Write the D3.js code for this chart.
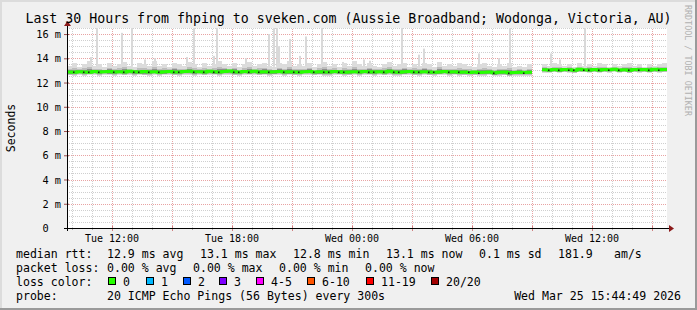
<!DOCTYPE html>
<html>
<head>
<meta charset="utf-8">
<script src="https://cdn.jsdelivr.net/npm/d3@7"></script>
<style>
  body { margin: 0; background: #f0f0f0; }
  svg { display: block; font-family: "DejaVu Sans Mono", monospace; }
  .grid line { shape-rendering: crispEdges; }
  .grid path { display: none; }
</style>
</head>
<body>
<div id="chart"></div>
<script>
// 30 hours, one sample every 15 minutes (ms)
const startTime = new Date(2026, 2, 24, 9, 45);
const endTime = new Date(2026, 2, 25, 15, 45);

const median = [
  12.86,12.84,12.90,12.88,12.85,12.91,12.87,12.89,12.92,12.88,
  12.90,12.87,12.93,12.89,12.86,12.91,12.88,12.90,12.85,12.89,
  12.92,12.88,12.87,12.91,12.94,12.89,12.90,12.86,12.93,12.90,
  12.88,12.92,12.95,12.90,12.87,12.91,12.89,12.93,12.88,12.90,
  12.86,12.89,12.91,12.87,12.90,12.88,12.85,12.89,12.92,12.87,
  12.90,12.88,12.86,12.91,12.89,12.84,12.88,12.90,12.87,12.92,
  12.89,12.86,12.90,12.88,12.93,12.87,12.85,12.89,12.91,12.88,
  12.86,12.90,12.87,12.84,12.88,12.91,12.86,12.89,12.85,12.87,
  12.83,12.86,12.82,12.85,12.88,12.81,12.84,12.86,12.80,12.83,
  12.85,12.82,12.84,null,null,13.06,13.04,13.08,13.03,13.07,
  13.05,13.02,13.09,13.06,13.04,13.08,13.03,13.07,13.05,13.10,
  13.04,13.06,13.02,13.08,13.05,13.07,13.03,13.09,13.06,13.08
];

const smokeHigh = [
  13.4,13.6,13.3,13.5,13.8,13.4,13.5,13.3,13.6,13.4,
  13.5,13.7,13.4,13.3,13.6,13.5,13.4,13.8,13.4,13.5,
  13.3,13.6,13.5,13.4,13.7,13.5,13.3,13.6,13.4,13.5,
  13.8,13.5,13.4,13.6,13.3,13.5,13.7,13.4,13.5,13.6,
  13.4,13.3,13.6,13.5,13.8,13.4,13.5,13.4,13.6,13.3,
  13.5,13.7,13.4,13.5,13.3,13.6,13.4,13.8,13.5,13.4,
  13.6,13.4,13.3,13.5,13.7,13.4,13.5,13.6,13.3,13.5,
  13.4,13.6,13.5,13.3,13.7,13.4,13.5,13.4,13.6,13.5,
  13.4,13.3,13.5,13.6,13.4,13.3,13.5,13.4,13.6,13.3,
  13.4,13.3,13.5,null,null,13.5,13.4,13.6,13.5,13.4,
  13.5,13.3,13.6,13.4,13.5,13.4,13.6,13.5,13.3,13.5,
  13.4,13.5,13.6,13.4,13.5,13.3,13.5,13.4,13.5,13.6
];

const smokeLow = [
  12.60,12.55,12.65,12.58,12.62,12.66,12.57,12.63,12.60,12.56,
  12.64,12.59,12.62,12.57,12.65,12.60,12.58,12.63,12.56,12.61,
  12.66,12.60,12.57,12.64,12.62,12.58,12.65,12.59,12.63,12.61,
  12.57,12.64,12.66,12.60,12.58,12.63,12.61,12.65,12.59,12.62,
  12.58,12.61,12.64,12.57,12.62,12.60,12.56,12.63,12.65,12.59,
  12.62,12.58,12.57,12.63,12.61,12.55,12.60,12.64,12.58,12.66,
  12.61,12.57,12.63,12.60,12.65,12.58,12.56,12.62,12.64,12.60,
  12.57,12.63,12.59,12.55,12.61,12.64,12.58,12.62,12.56,12.60,
  12.55,12.60,12.54,12.58,12.62,12.53,12.57,12.60,12.52,12.56,
  12.58,12.54,12.57,null,null,12.82,12.80,12.85,12.79,12.84,
  12.81,12.78,12.86,12.83,12.80,12.85,12.79,12.84,12.82,12.87,
  12.80,12.83,12.78,12.85,12.81,12.84,12.79,12.86,12.82,12.85
];

// single outlier pings (hours after start, top in ms)
const spikeHours = [1.15, 1.45, 2.7, 3.2, 3.85, 4.35, 5.95, 6.3, 7.3, 7.45, 7.65, 8.9,
  10.05, 10.3, 10.45, 10.55, 11.1, 11.6, 11.9, 12.7, 13.75, 14.8, 15.1, 16.7, 17.55,
  17.8, 20.55, 21.55, 22.1, 24.15, 24.6, 25.85];
const spikeTops = [14.1, 16.5, 16.1, 16.5, 13.9, 14.0, 14.1, 16.5, 14.2, 16.5, 13.6, 14.0,
  16.0, 16.5, 16.5, 15.0, 15.6, 14.2, 15.8, 16.5, 13.7, 13.9, 13.8, 16.5, 14.3,
  14.8, 14.4, 14.0, 16.5, 14.4, 13.9, 16.5];

const yTicks = [0, 2, 4, 6, 8, 10, 12, 14, 16];

const lossLabels = ["0", "1", "2", "3", "4-5", "6-10", "11-19", "20/20"];
const lossColors = ["#26ff00", "#00b8ff", "#0059ff", "#7e00ff", "#ff00ff", "#ff5500", "#ff0000", "#a10000"];

const rttLegend = ["12.9 ms avg", "13.1 ms max", "12.8 ms min", "13.1 ms now", "0.1 ms sd", "181.9", "am/s"];
const lossLegend = ["0.00 % avg", "0.00 % max", "0.00 % min", "0.00 % now"];
const probeText = "20 ICMP Echo Pings (56 Bytes) every 300s";
const stampText = "Wed Mar 25 15:44:49 2026";
const titleText = "Last 30 Hours from fhping to sveken.com (Aussie Broadband; Wodonga, Victoria, AU)";

function main() {
    const width = 697, height = 310;
    const plot = {left: 67, right: 667, top: 28, bottom: 228};
    const step = 15 * 60 * 1000;

    const svg = d3.select("#chart")
        .append("svg")
        .attr("width", width)
        .attr("height", height);

    // background and frame
    svg.append("rect").attr("width", width).attr("height", height).attr("fill", "#f0f0f0");
    svg.append("rect").attr("x", 0).attr("y", 0).attr("width", width).attr("height", 2).attr("fill", "#dcdcdc");
    svg.append("rect").attr("x", 0).attr("y", 0).attr("width", 2).attr("height", height).attr("fill", "#dcdcdc");
    svg.append("rect").attr("x", 0).attr("y", height - 2).attr("width", width).attr("height", 2).attr("fill", "#9a9a9a");
    svg.append("rect").attr("x", width - 2).attr("y", 0).attr("width", 2).attr("height", height).attr("fill", "#9a9a9a");

    svg.append("rect")
        .attr("x", plot.left).attr("y", plot.top)
        .attr("width", plot.right - plot.left).attr("height", plot.bottom - plot.top)
        .attr("fill", "#ffffff");

    const xScale = d3.scaleTime().domain([startTime, endTime]).range([plot.left, plot.right]);
    const yScale = d3.scaleLinear().domain([0, 16.5]).range([plot.bottom, plot.top]);

    // grid
    const minorY = d3.range(0.5, 16.51, 0.5).filter(v => v % 2 !== 0);
    const majorY = yTicks.filter(v => v > 0);
    const hours = d3.timeHour.every(1).range(startTime, endTime);
    const minorX = hours.filter(d => d.getHours() % 3 !== 0);
    const majorX = hours.filter(d => d.getHours() % 3 === 0);

    svg.append("g").attr("class", "grid")
        .attr("transform", `translate(${plot.left},0)`)
        .call(d3.axisLeft(yScale).tickValues(minorY).tickSize(-(plot.right - plot.left)).tickFormat(""))
        .selectAll("line").attr("stroke", "#cfcfcf").attr("stroke-dasharray", "1,1");
    svg.append("g").attr("class", "grid")
        .attr("transform", `translate(0,${plot.bottom})`)
        .call(d3.axisBottom(xScale).tickValues(minorX).tickSize(-(plot.bottom - plot.top)).tickFormat(""))
        .selectAll("line").attr("stroke", "#cfcfcf").attr("stroke-dasharray", "1,1");
    svg.append("g").attr("class", "grid")
        .attr("transform", `translate(${plot.left},0)`)
        .call(d3.axisLeft(yScale).tickValues(majorY).tickSize(-(plot.right - plot.left)).tickFormat(""))
        .selectAll("line").attr("stroke", "#e8a3a3").attr("stroke-dasharray", "1,1");
    svg.append("g").attr("class", "grid")
        .attr("transform", `translate(0,${plot.bottom})`)
        .call(d3.axisBottom(xScale).tickValues(majorX).tickSize(-(plot.bottom - plot.top)).tickFormat(""))
        .selectAll("line").attr("stroke", "#e8a3a3").attr("stroke-dasharray", "1,1");

    // samples
    const samples = median.map((m, i) => ({
        t0: new Date(+startTime + i * step),
        t1: new Date(+startTime + (i + 1) * step),
        med: m, lo: smokeLow[i], hi: smokeHigh[i]
    })).filter(d => d.med !== null);

    // smoke spikes
    svg.selectAll(".spike")
        .data(spikeHours.map((h, i) => ({t: new Date(+startTime + h * 3600000), top: spikeTops[i]})))
        .enter().append("rect")
        .attr("class", "spike")
        .attr("x", d => Math.round(xScale(d.t)))
        .attr("width", 2)
        .attr("y", d => yScale(d.top))
        .attr("height", d => yScale(13.3) - yScale(d.top))
        .attr("fill", "#d9d9d9");

    // smoke layers, light outside to dark near the median
    const layers = [
        {fill: "#dcdcdc", lo: d => d.lo, hi: d => d.hi},
        {fill: "#bdbdbd", lo: d => d.med - 0.8 * (d.med - d.lo), hi: d => d.med + 0.45 * (d.hi - d.med)},
        {fill: "#8e8e8e", lo: d => d.med - 0.55 * (d.med - d.lo), hi: d => d.med + 0.28 * (d.hi - d.med)}
    ];
    layers.forEach(function(layer) {
        svg.append("g").selectAll("rect")
            .data(samples)
            .enter().append("rect")
            .attr("x", d => xScale(d.t0))
            .attr("width", d => xScale(d.t1) - xScale(d.t0))
            .attr("y", d => yScale(layer.hi(d)))
            .attr("height", d => yScale(layer.lo(d)) - yScale(layer.hi(d)))
            .attr("fill", layer.fill)
            .attr("shape-rendering", "crispEdges");
    });

    // median line, coloured by loss (all 0 here)
    const medPts = [];
    median.forEach(function(m, i) {
        medPts.push({t: new Date(+startTime + i * step), v: m});
        medPts.push({t: new Date(+startTime + (i + 1) * step), v: m});
    });
    const medLine = d3.line()
        .defined(d => d.v !== null)
        .x(d => xScale(d.t))
        .y(d => yScale(d.v));
    svg.append("path")
        .datum(medPts)
        .attr("d", medLine)
        .attr("fill", "none")
        .attr("stroke", lossColors[0])
        .attr("stroke-width", 3);

    svg.selectAll(".meddot")
        .data(samples.filter((d, i) => i > 0 && d.med < samples[i - 1].med))
        .enter().append("rect")
        .attr("class", "meddot")
        .attr("x", d => Math.round(xScale(d.t0)) + 1)
        .attr("y", d => Math.round(yScale(d.med)) - 0.5)
        .attr("width", 1.5).attr("height", 1.5)
        .attr("fill", "#1a1a1a");

    // axes
    const tickGroup = svg.append("g");
    tickGroup.selectAll(".ymt").data(yTicks).enter().append("line")
        .attr("x1", plot.left - 3).attr("x2", plot.left + 2)
        .attr("y1", d => yScale(d) + 0.5).attr("y2", d => yScale(d) + 0.5)
        .attr("stroke", "#a05050");
    tickGroup.selectAll(".xmt").data(majorX).enter().append("line")
        .attr("x1", d => Math.round(xScale(d)) + 0.5).attr("x2", d => Math.round(xScale(d)) + 0.5)
        .attr("y1", plot.bottom - 2).attr("y2", plot.bottom + 3)
        .attr("stroke", "#d08080");
    tickGroup.selectAll(".xnt").data(minorX).enter().append("line")
        .attr("x1", d => Math.round(xScale(d)) + 0.5).attr("x2", d => Math.round(xScale(d)) + 0.5)
        .attr("y1", plot.bottom).attr("y2", plot.bottom + 2)
        .attr("stroke", "#b0b0b0");

    svg.append("line")
        .attr("x1", plot.left - 3).attr("x2", plot.right + 3)
        .attr("y1", plot.bottom + 0.5).attr("y2", plot.bottom + 0.5)
        .attr("stroke", "#000");
    svg.append("line")
        .attr("x1", plot.left + 0.5).attr("x2", plot.left + 0.5)
        .attr("y1", plot.bottom + 3).attr("y2", plot.top - 3)
        .attr("stroke", "#000");
    svg.append("path")
        .attr("d", `M${plot.right + 2},${plot.bottom - 3}L${plot.right + 7},${plot.bottom + 0.5}L${plot.right + 2},${plot.bottom + 4}Z`)
        .attr("fill", "#8b1a1a");
    svg.append("path")
        .attr("d", `M${plot.left - 3},${plot.top - 2}L${plot.left + 0.5},${plot.top - 7}L${plot.left + 4},${plot.top - 2}Z`)
        .attr("fill", "#8b1a1a");

    // y tick labels
    svg.append("g").selectAll("text").data(yTicks).enter().append("text")
        .attr("x", plot.left - 6)
        .attr("y", d => yScale(d) + 4)
        .attr("text-anchor", "end")
        .attr("font-size", "10.3px")
        .attr("fill", "#000")
        .attr("xml:space", "preserve")
        .text(d => d === 0 ? "0\u00a0\u00a0" : d + " m");

    // x tick labels
    const labelX = hours.filter(d => d.getHours() % 6 === 0);
    const fmt = d3.timeFormat("%a %H:%M");
    svg.append("g").selectAll("text").data(labelX).enter().append("text")
        .attr("x", d => xScale(d))
        .attr("y", plot.bottom + 14)
        .attr("text-anchor", "middle")
        .attr("font-size", "10px")
        .text(d => fmt(d));

    // titles
    svg.append("text")
        .attr("x", width / 2).attr("y", 23)
        .attr("text-anchor", "middle")
        .attr("font-size", "13.25px")
        .text(titleText);
    svg.append("text")
        .attr("transform", `translate(15,${(plot.top + plot.bottom) / 2}) rotate(-90)`)
        .attr("text-anchor", "middle")
        .attr("font-size", "11.5px")
        .text("Seconds");
    svg.append("text")
        .attr("transform", "translate(685,5) rotate(90)")
        .attr("font-size", "8.4px")
        .attr("fill", "#b0b0b0")
        .text("RRDTOOL / TOBI OETIKER");

    // legend
    const lg = svg.append("g").attr("font-size", "11.55px").attr("fill", "#000");
    const rttX = [107, 200, 293, 386, 479, 558, 614];
    const lossX = [107, 193, 279, 365];
    lg.append("text").attr("x", 16).attr("y", 258).text("median rtt:");
    rttLegend.forEach((s, i) => lg.append("text").attr("x", rttX[i]).attr("y", 258).text(s));
    lg.append("text").attr("x", 16).attr("y", 272).text("packet loss:");
    lossLegend.forEach((s, i) => lg.append("text").attr("x", lossX[i]).attr("y", 272).text(s));
    lg.append("text").attr("x", 16).attr("y", 286).text("loss color:");
    const boxX = [108, 146, 183, 219, 256, 307, 366, 431];
    lossLabels.forEach(function(s, i) {
        lg.append("rect")
            .attr("x", boxX[i] + 0.5).attr("y", 277.5)
            .attr("width", 7).attr("height", 7)
            .attr("fill", lossColors[i])
            .attr("stroke", "#000");
        lg.append("text").attr("x", boxX[i] + 15).attr("y", 286).text(s);
    });
    lg.append("text").attr("x", 16).attr("y", 300).text("probe:");
    lg.append("text").attr("x", 107).attr("y", 300).text(probeText);
    lg.append("text").attr("x", 681).attr("y", 300).attr("text-anchor", "end").text(stampText);
}

main();
</script>
</body>
</html>
